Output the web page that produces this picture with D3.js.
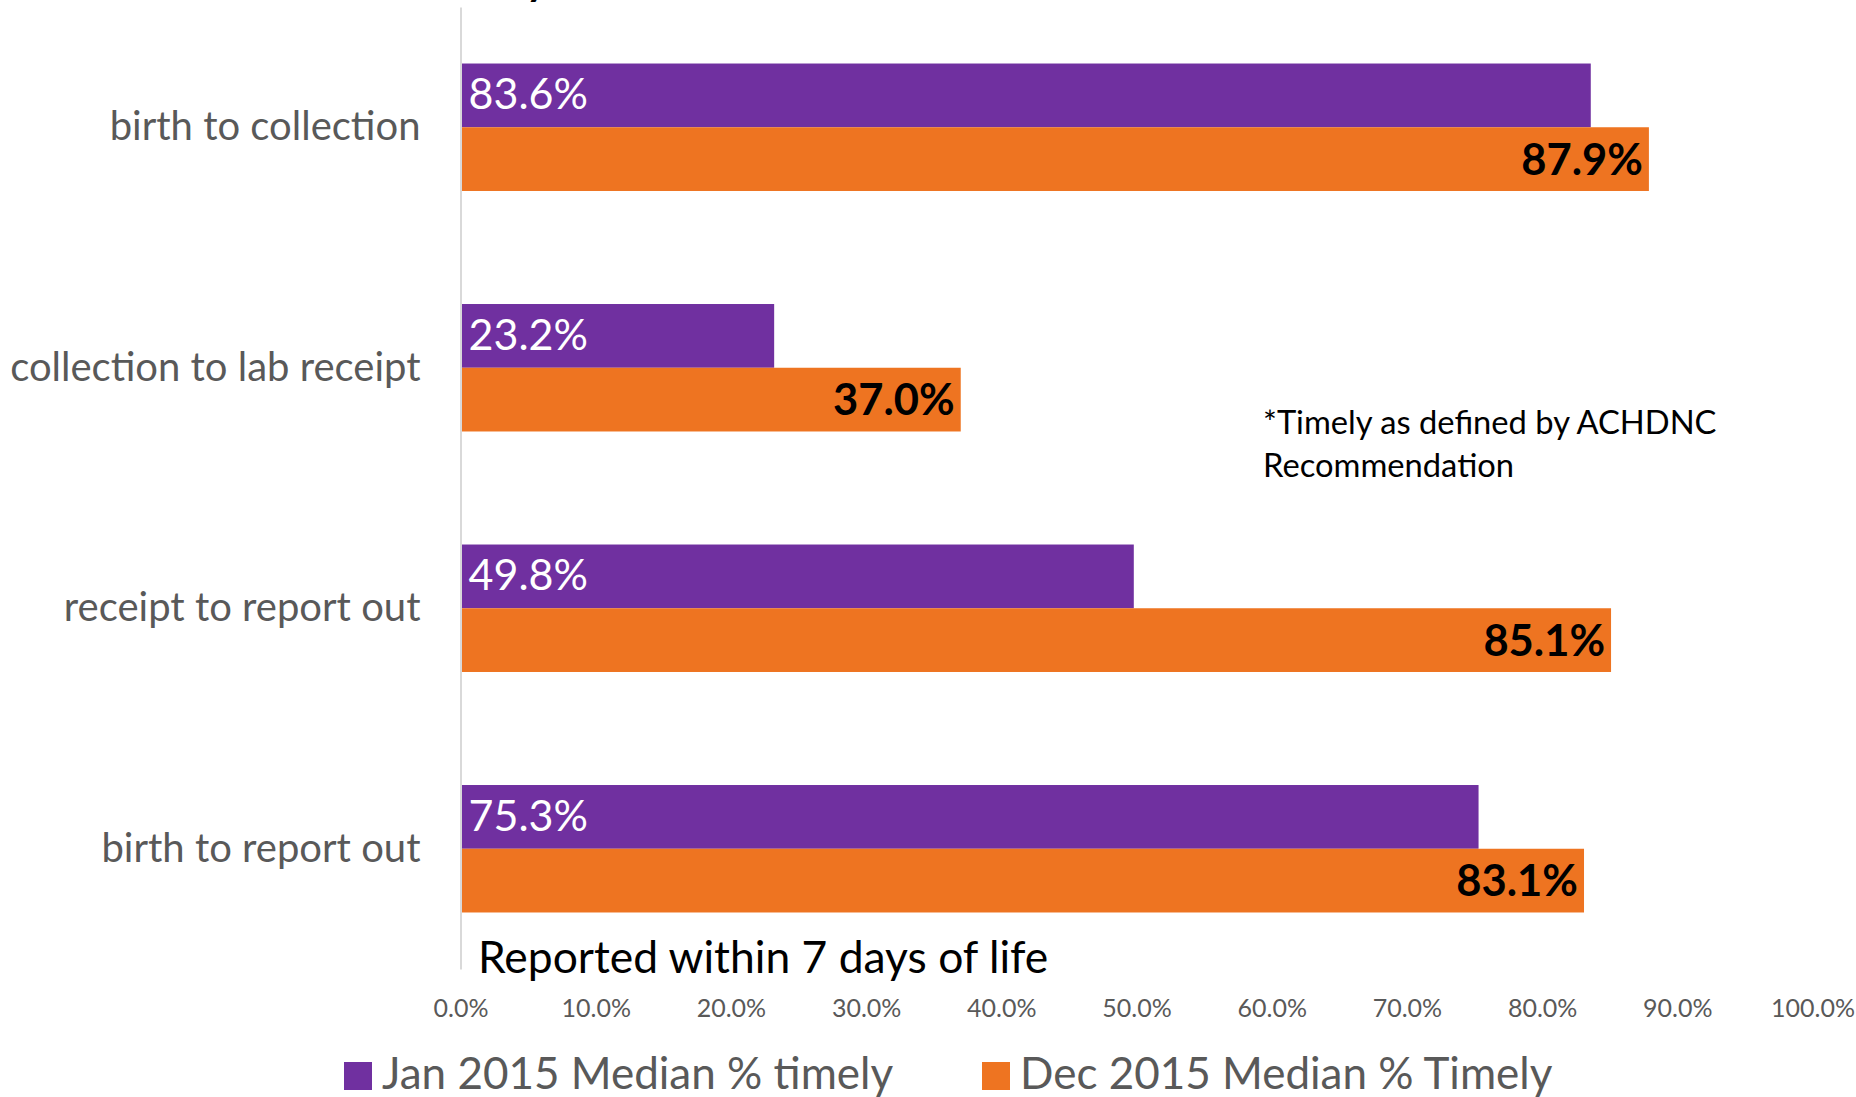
<!DOCTYPE html>
<html><head><meta charset="utf-8">
<script src="https://cdn.jsdelivr.net/npm/d3@7"></script>
<style>body{margin:0;background:#fff}svg{display:block}text{font-family:Lato,"Open Sans",sans-serif}</style>
</head><body>
<script>
const categories = ["birth to collection","collection to lab receipt","receipt to report out","birth to report out"];
const jan2015 = [83.6, 23.2, 49.8, 75.3];
const dec2015 = [87.9, 37.0, 85.1, 83.1];
const seriesNames = ["Jan 2015 Median % timely","Dec 2015 Median % Timely"];
const xTicks = [0,10,20,30,40,50,60,70,80,90,100];

const W = 1856, H = 1097;
const svg = d3.select("body").append("svg").attr("width", W).attr("height", H);

const x = d3.scaleLinear().domain([0,100]).range([460.5, 1812.5]);
const y = d3.scaleBand().domain(categories).range([7, 969]).paddingInner(0.47).paddingOuter(0.235);
const sub = d3.scaleBand().domain([0,1]).range([0, y.bandwidth()]);
const colors = ["#7030A0", "#EE7421"];

// partial title cut at top
svg.append("text").attr("x", 548).attr("y", -5).attr("text-anchor","end")
  .attr("font-size", 42).attr("font-weight","bold").attr("fill","#000").text("Timely");

// bars
const data = categories.map((c,i)=>({c, v:[jan2015[i], dec2015[i]]}));
const g = svg.append("g");
data.forEach(d=>{
  d.v.forEach((v,k)=>{
    g.append("rect").attr("x", x(0)).attr("y", y(d.c)+sub(k))
      .attr("width", x(v)-x(0)).attr("height", sub.bandwidth()).attr("fill", colors[k]);
  });
  g.append("text").attr("x", x(0)+8).attr("y", y(d.c)+sub(0)+sub.bandwidth()-18)
    .attr("font-size", 43).attr("fill","#fff").text(d.v[0].toFixed(1)+"%");
  g.append("text").attr("x", x(d.v[1])-6).attr("y", y(d.c)+sub(1)+sub.bandwidth()-16)
    .attr("text-anchor","end").attr("font-size", 43.5).attr("font-weight","bold").attr("fill","#000")
    .text(d.v[1].toFixed(1)+"%");
});

// y axis
const ya = svg.append("g").attr("transform",`translate(${x(0)},0)`)
  .call(d3.axisLeft(y).tickSize(0).tickPadding(40));
ya.select(".domain").attr("stroke","#d9d9d9").attr("stroke-width",2);
ya.selectAll("text").attr("font-size", 40).attr("fill","#595959").attr("font-family","Lato");

// x axis labels (no line)
const xa = svg.append("g").attr("transform",`translate(0,${1017})`)
  .call(d3.axisBottom(x).tickValues(xTicks).tickSize(0).tickPadding(0).tickFormat(d=>d.toFixed(1)+"%"));
xa.select(".domain").remove();
xa.selectAll("text").attr("font-size", 25).attr("fill","#595959").attr("dy","0").attr("font-family","Lato");

// axis title
svg.append("text").attr("x", 478).attr("y", 973).attr("font-size", 44.4).attr("fill","#000").text("Reported within 7 days of life");

// annotation
svg.append("text").attr("x", 1263).attr("y", 434).attr("font-size", 32.7).attr("fill","#000").text("*Timely as defined by ACHDNC");
svg.append("text").attr("x", 1263).attr("y", 477).attr("font-size", 32.7).attr("fill","#000").text("Recommendation");

// legend
const legX = [344, 982];
seriesNames.forEach((n,k)=>{
  svg.append("rect").attr("x", legX[k]).attr("y", 1062).attr("width", 28).attr("height", 28).attr("fill", colors[k]);
  svg.append("text").attr("x", legX[k]+38).attr("y", 1089).attr("font-size", 44).attr("fill","#595959").text(n);
});
</script>
</body></html>
